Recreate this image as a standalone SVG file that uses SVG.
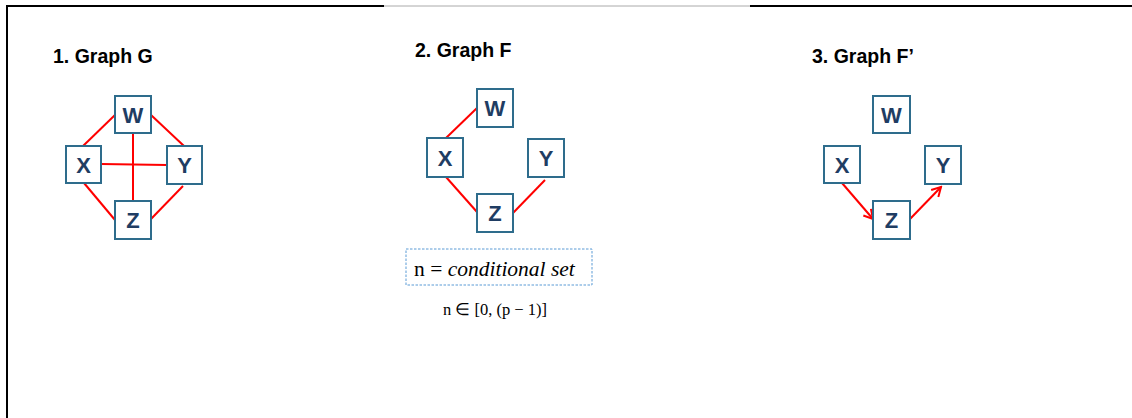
<svg xmlns="http://www.w3.org/2000/svg" width="1132" height="418" viewBox="0 0 1132 418">
<style>
.title{font-family:"Liberation Sans",Arial,sans-serif;font-weight:bold;font-size:19.5px;fill:#000}
.box{fill:#fff;stroke:#2E6C8C;stroke-width:2}
.lbl{font-family:"Liberation Sans",Arial,sans-serif;font-weight:bold;font-size:22px;fill:#1F3D63;text-anchor:middle}
.edge{stroke:#FF0000;stroke-width:2;fill:none}
</style>
<defs>
<marker id="arr" markerUnits="userSpaceOnUse" markerWidth="12" markerHeight="12" refX="10" refY="6" orient="auto">
<path d="M1,1 L10,6 L1,11" fill="none" stroke="#FF0000" stroke-width="2"/>
</marker>
</defs>
<rect width="1132" height="418" fill="#fff"/>
<g id="frame">
<line x1="7" y1="5" x2="7" y2="418" stroke="#000" stroke-width="2"/>
<line x1="6" y1="6" x2="384" y2="6" stroke="#000" stroke-width="2"/>
<line x1="384" y1="6" x2="750" y2="6" stroke="#AAAAAA" stroke-width="1"/>
<line x1="750" y1="6" x2="1132" y2="6" stroke="#000" stroke-width="2"/>
</g>
<g id="titles">
<text class="title" x="53" y="63">1. Graph G</text>
<text class="title" x="415" y="57">2. Graph F</text>
<text class="title" x="812" y="63">3. Graph F’</text>
</g>
<g id="connectors">
<line class="edge" x1="115" y1="115" x2="83" y2="146"/>
<line class="edge" x1="151" y1="115" x2="184" y2="146"/>
<line class="edge" x1="101" y1="164" x2="167" y2="165"/>
<line class="edge" x1="133" y1="133" x2="133" y2="201"/>
<line class="edge" x1="84" y1="183" x2="115" y2="220"/>
<line class="edge" x1="183" y1="186" x2="151" y2="219"/>
<line class="edge" x1="446" y1="138" x2="477" y2="108"/>
<line class="edge" x1="446" y1="177" x2="477" y2="212"/>
<line class="edge" x1="545" y1="180" x2="513" y2="213"/>
<line class="edge" x1="842" y1="183" x2="873" y2="219" marker-end="url(#arr)"/>
<line class="edge" x1="910" y1="219" x2="941" y2="187" marker-end="url(#arr)"/>
</g>
<g id="G-W"><rect class="box" x="115" y="96" width="36" height="37"/><text class="lbl" x="133" y="122.5">W</text></g>
<g id="G-X"><rect class="box" x="66" y="146" width="35" height="37"/><text class="lbl" x="83.5" y="172.5">X</text></g>
<g id="G-Y"><rect class="box" x="167" y="146" width="35" height="38"/><text class="lbl" x="184.5" y="173">Y</text></g>
<g id="G-Z"><rect class="box" x="115" y="201" width="36" height="38"/><text class="lbl" x="133" y="228">Z</text></g>
<g id="F-W"><rect class="box" x="477" y="89" width="36" height="38"/><text class="lbl" x="495" y="116">W</text></g>
<g id="F-X"><rect class="box" x="427" y="138" width="36" height="39"/><text class="lbl" x="445" y="165.5">X</text></g>
<g id="F-Y"><rect class="box" x="528" y="139" width="36" height="38"/><text class="lbl" x="546" y="166">Y</text></g>
<g id="F-Z"><rect class="box" x="477" y="194" width="36" height="38"/><text class="lbl" x="495" y="221">Z</text></g>
<g id="Fp-W"><rect class="box" x="873" y="96" width="37" height="37"/><text class="lbl" x="891.5" y="122.5">W</text></g>
<g id="Fp-X"><rect class="box" x="824" y="146" width="36" height="37"/><text class="lbl" x="842" y="172.5">X</text></g>
<g id="Fp-Y"><rect class="box" x="925" y="146" width="36" height="38"/><text class="lbl" x="943" y="173">Y</text></g>
<g id="Fp-Z"><rect class="box" x="873" y="201" width="37" height="38"/><text class="lbl" x="891.5" y="228">Z</text></g>
<g id="condset">
<rect x="406" y="249" width="186" height="36" fill="#fff" stroke="#5B9BD5" stroke-width="1" stroke-dasharray="2.5,1.5"/>
<text x="414" y="275.5" font-family="'Liberation Serif','Times New Roman',serif" font-size="21.5px" fill="#000">n = <tspan font-style="italic">conditional set</tspan></text>
</g>
<text x="443" y="315" font-family="'Liberation Serif','Times New Roman',serif" font-size="16.5px" fill="#000">n ∈ [0, (p − 1)]</text>
</svg>
